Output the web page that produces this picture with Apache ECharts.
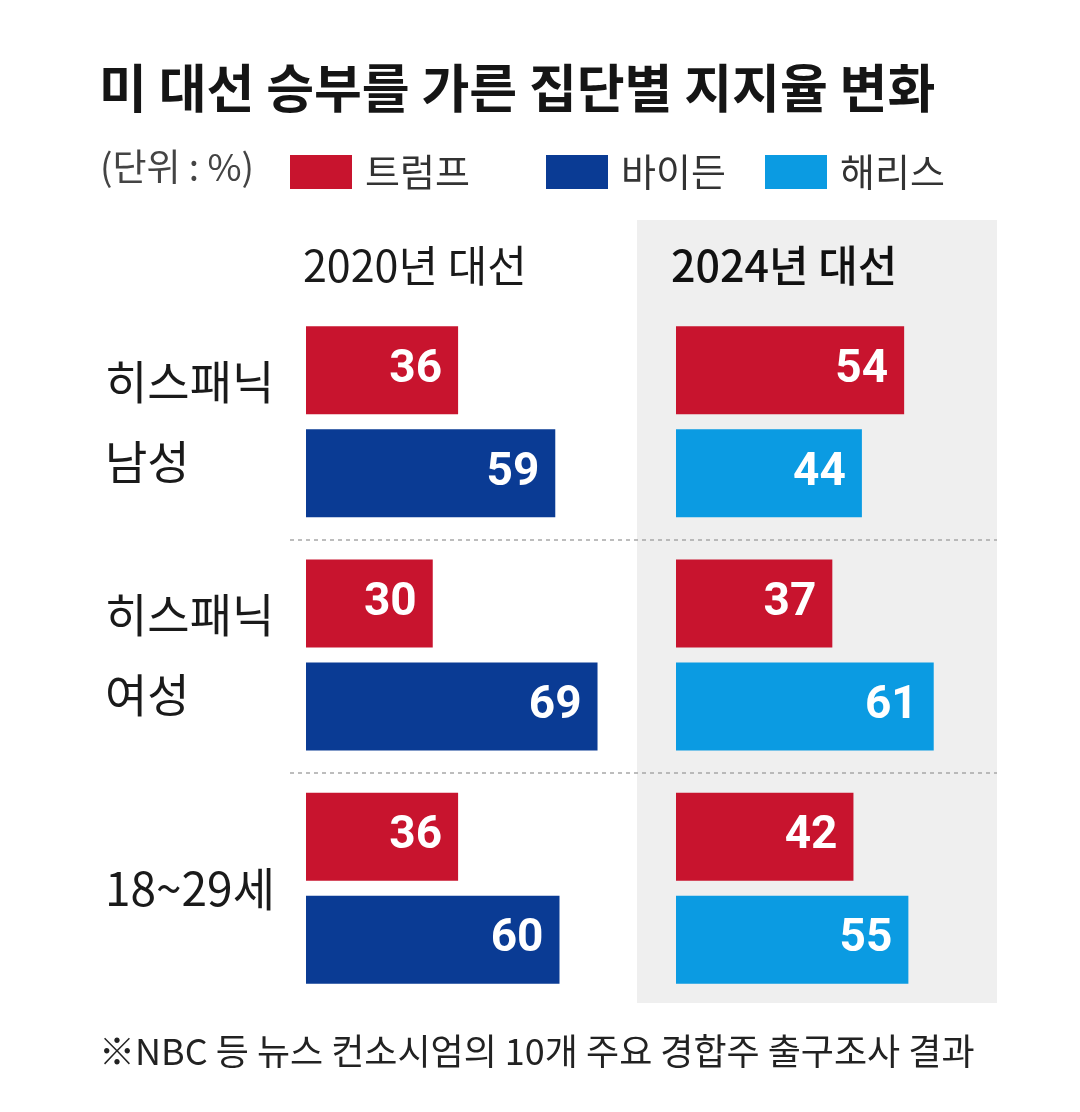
<!DOCTYPE html>
<html>
<head>
<meta charset="utf-8">
<script src="https://cdn.jsdelivr.net/npm/echarts@6/dist/echarts.min.js"></script>
<style>
  html, body { margin: 0; padding: 0; background: #fff; }
  #chart { width: 1080px; height: 1112px; }
</style>
</head>
<body>
<div id="chart"></div>
<script>
const categories = ['히스패닉\n남성', '히스패닉\n여성', '18~29세'];
const trump2020 = [36, 30, 36];
const biden2020 = [59, 69, 60];
const trump2024 = [54, 37, 42];
const harris2024 = [44, 61, 55];
const headers = ['2020년 대선', '2024년 대선'];

const RED = '#c8142e';
const BLUE = '#0a3b94';
const CYAN = '#0b9be2';
const KR = '"Noto Sans CJK KR", "Noto Sans", sans-serif';
const NUM = '"Liberation Sans Narrow", Roboto, "Noto Sans CJK KR", sans-serif';

const chart = echarts.init(document.getElementById('chart'), null, { renderer: 'canvas' });

const valueLabel = {
  show: true,
  position: 'insideRight',
  distance: 16,
  color: '#fff',
  fontSize: 46,
  fontWeight: 'bold',
  fontFamily: NUM
};

function barSeries(name, data, color, idx) {
  return {
    name: name,
    type: 'bar',
    xAxisIndex: idx,
    yAxisIndex: idx,
    data: data,
    barWidth: 88,
    barGap: '17%',
    itemStyle: { color: color },
    label: valueLabel,
    emphasis: { disabled: true },
    z: 5
  };
}

const gridTop = 305;
const gridHeight = 700;
const scaleMax = 80;
const gridWidth = 338;

const legendBase = {
  top: 153, icon: 'rect', itemWidth: 62, itemHeight: 34, padding: 0,
  selectedMode: false,
  textStyle: { fontFamily: KR, fontSize: 38, color: '#333', padding: [0, 0, 0, 8] }
};

const option = {
  animation: false,
  backgroundColor: '#fff',
  title: [
    {
      text: '미 대선 승부를 가른 집단별 지지율 변화',
      left: 99, top: 62, padding: 0,
      textStyle: { fontFamily: KR, fontSize: 52, fontWeight: 'bold', color: '#151515' }
    },
    {
      text: '(단위 : %)',
      left: 100, top: 148, padding: 0,
      textStyle: { fontFamily: KR, fontSize: 37, fontWeight: 'normal', color: '#444' }
    },
    {
      text: headers[0],
      left: 303, top: 244, padding: 0,
      textStyle: { fontFamily: KR, fontSize: 43, fontWeight: 'normal', color: '#1a1a1a' }
    },
    {
      text: headers[1],
      left: 671, top: 244, padding: 0,
      textStyle: { fontFamily: KR, fontSize: 43, fontWeight: 500, color: '#111' }
    },
    {
      text: '※NBC 등 뉴스 컨소시엄의 10개 주요 경합주 출구조사 결과',
      left: 99, top: 1033, padding: 0,
      textStyle: { fontFamily: KR, fontSize: 36, fontWeight: 'normal', color: '#222' }
    }
  ],
  legend: [
    Object.assign({}, legendBase, { data: ['트럼프'], left: 290 }),
    Object.assign({}, legendBase, { data: ['바이든'], left: 546 }),
    Object.assign({}, legendBase, { data: ['해리스'], left: 765 })
  ],
  graphic: [
    {
      type: 'rect', z: -10, silent: true,
      shape: { x: 637, y: 220, width: 360, height: 783 },
      style: { fill: '#efefef' }
    },
    {
      type: 'line', z: 1, silent: true,
      shape: { x1: 290, y1: 540, x2: 997, y2: 540 },
      style: { stroke: '#a8a8a8', lineWidth: 1.5, lineDash: [4, 4] }
    },
    {
      type: 'line', z: 1, silent: true,
      shape: { x1: 290, y1: 773, x2: 997, y2: 773 },
      style: { stroke: '#a8a8a8', lineWidth: 1.5, lineDash: [4, 4] }
    }
  ],
  grid: [
    { left: 306, top: gridTop, width: gridWidth, height: gridHeight, containLabel: false },
    { left: 676, top: gridTop, width: gridWidth, height: gridHeight, containLabel: false }
  ],
  xAxis: [
    { type: 'value', gridIndex: 0, min: 0, max: scaleMax, show: false },
    { type: 'value', gridIndex: 1, min: 0, max: scaleMax, show: false }
  ],
  yAxis: [
    {
      type: 'category', gridIndex: 0, data: categories, inverse: true,
      axisLine: { show: false }, axisTick: { show: false }, splitLine: { show: false },
      axisLabel: {
        show: true, align: 'left', margin: 201,
        fontFamily: KR, fontSize: 46, lineHeight: 80, color: '#1a1a1a'
      }
    },
    {
      type: 'category', gridIndex: 1, data: categories, inverse: true, show: false
    }
  ],
  series: [
    barSeries('트럼프', trump2020, RED, 0),
    barSeries('바이든', biden2020, BLUE, 0),
    barSeries('트럼프', trump2024, RED, 1),
    barSeries('해리스', harris2024, CYAN, 1)
  ]
};

chart.setOption(option);
</script>
</body>
</html>
